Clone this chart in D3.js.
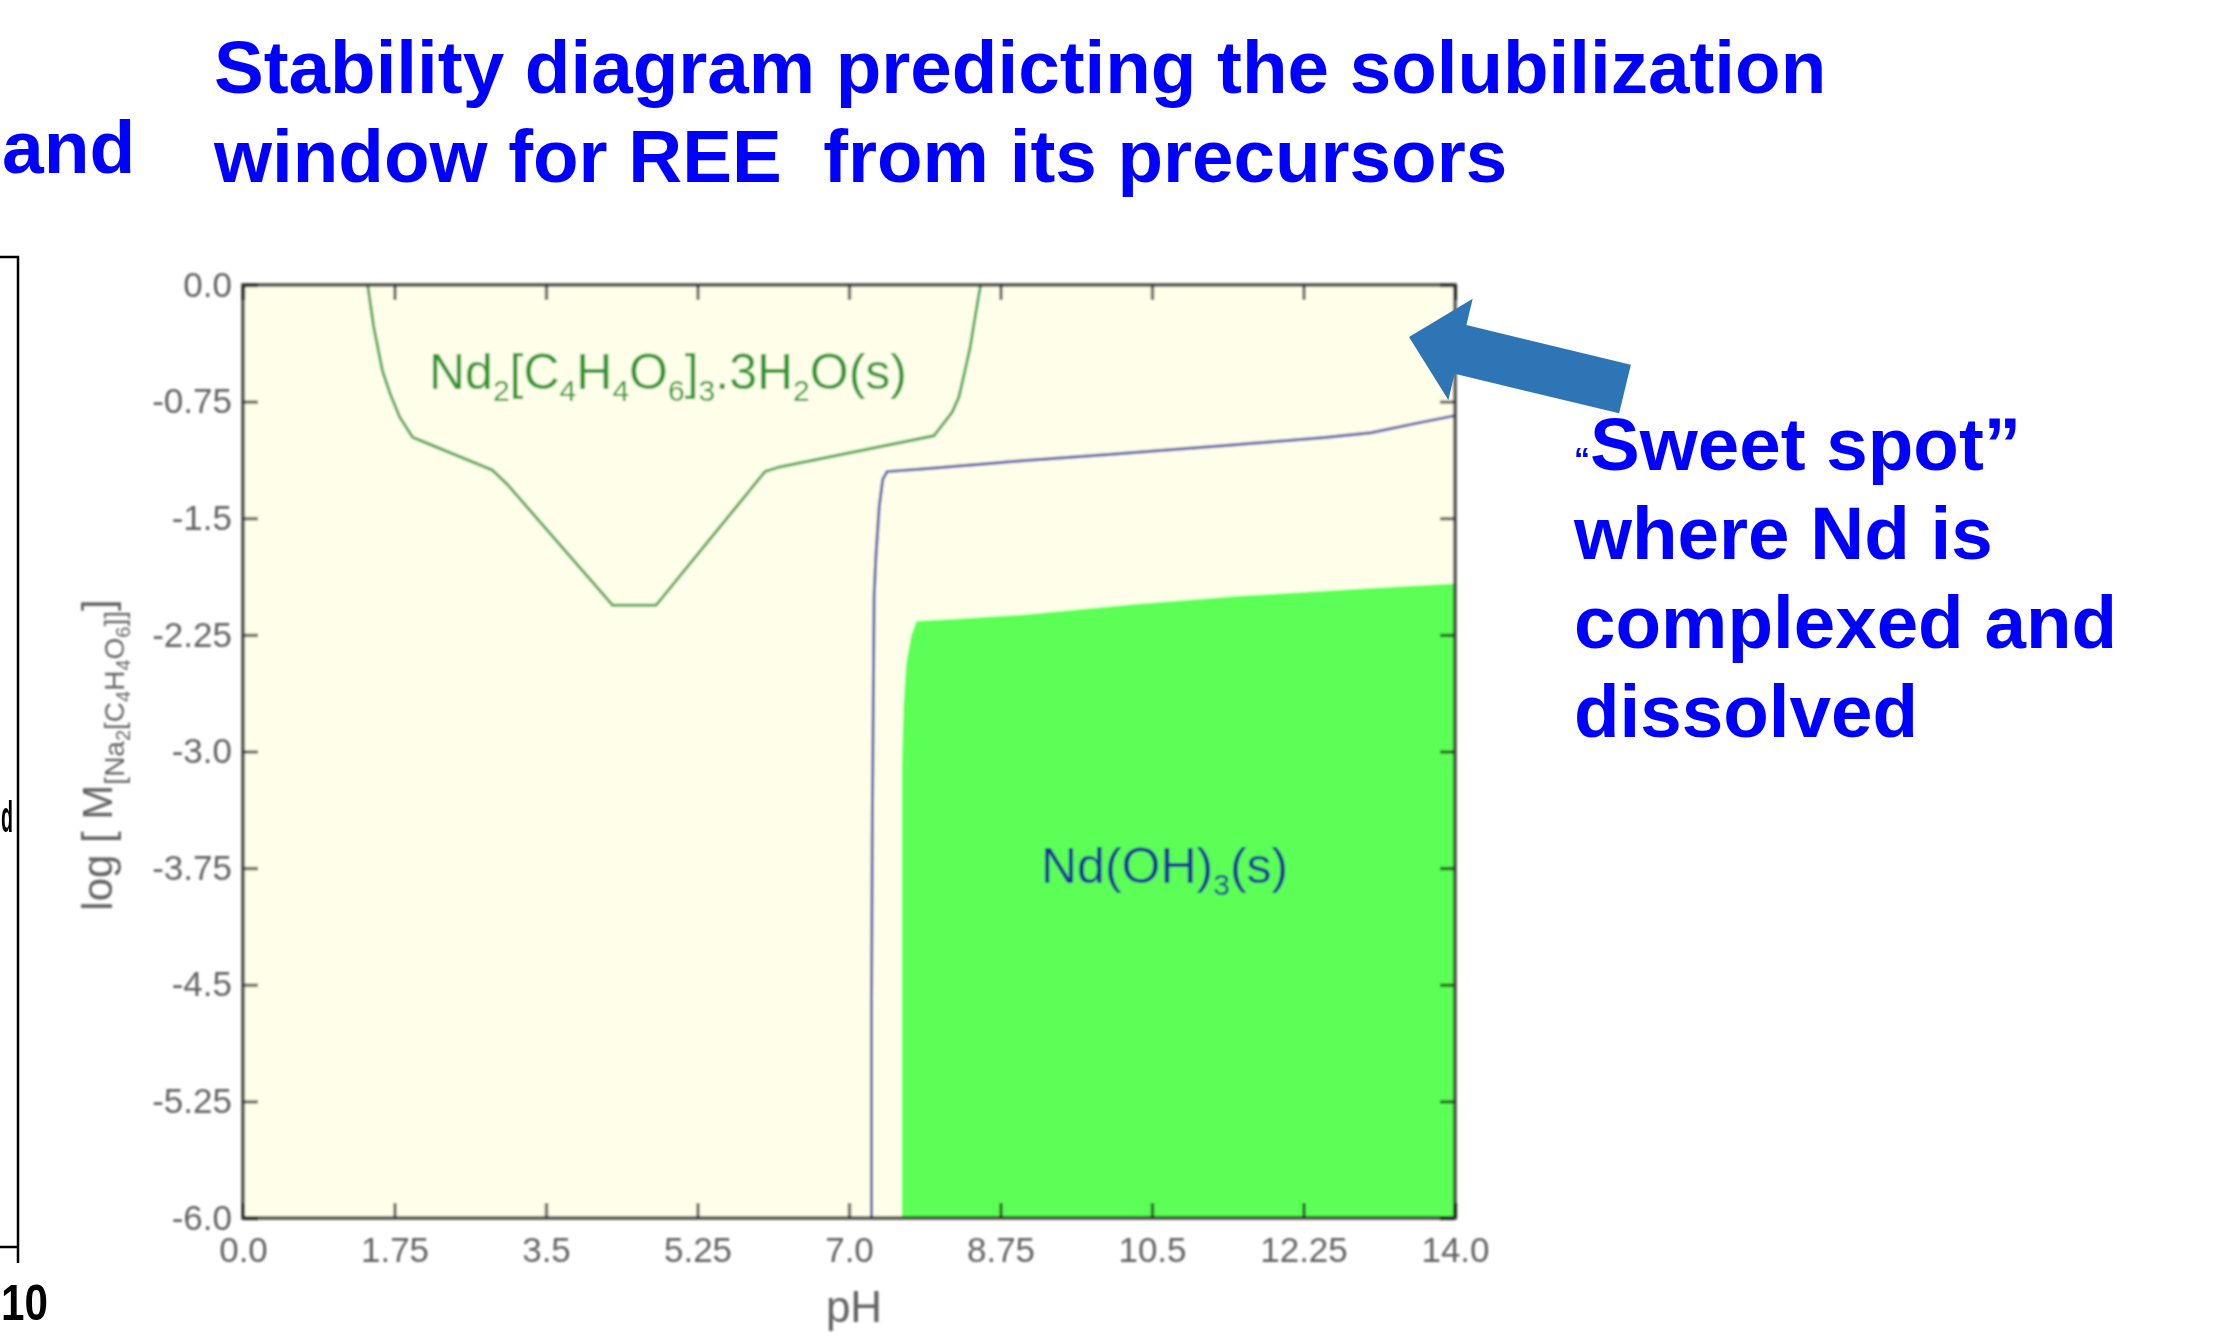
<!DOCTYPE html>
<html>
<head>
<meta charset="utf-8">
<script src="https://cdn.jsdelivr.net/npm/d3@7"></script>
<style>
  html, body { margin: 0; padding: 0; background: #ffffff; }
  svg { display: block; font-family: "Liberation Sans", Arial, Helvetica, sans-serif; }
</style>
</head>
<body>
<svg id="chart" width="2219" height="1342"></svg>
<script>
// ---- axis ticks ----
const phTicks = [0, 1.75, 3.5, 5.25, 7.0, 8.75, 10.5, 12.25, 14.0];
const phTickLabels = ["0.0", "1.75", "3.5", "5.25", "7.0", "8.75", "10.5", "12.25", "14.0"];
const logTicks = [0, -0.75, -1.5, -2.25, -3.0, -3.75, -4.5, -5.25, -6.0];
const logTickLabels = ["0.0", "-0.75", "-1.5", "-2.25", "-3.0", "-3.75", "-4.5", "-5.25", "-6.0"];

// ---- phase boundaries, [pH, log M] ----
// Nd2[C4H4O6]3·3H2O(s) precipitation field
const tartrateBoundary = [
  [1.44, 0.00], [1.51, -0.27], [1.61, -0.55], [1.70, -0.70], [1.81, -0.85],
  [1.96, -0.98], [2.05, -1.00], [2.88, -1.19], [3.05, -1.28], [4.27, -2.06],
  [4.77, -2.06], [6.03, -1.20], [6.20, -1.17], [7.98, -0.97], [8.19, -0.82],
  [8.27, -0.72], [8.34, -0.55], [8.40, -0.40], [8.47, -0.16], [8.52, 0.00]
];
// dissolved tartrate complex boundary
const complexBoundary = [
  [7.26, -6.00], [7.26, -4.60], [7.27, -3.40], [7.28, -2.70], [7.29, -2.00],
  [7.31, -1.75], [7.35, -1.42], [7.39, -1.25], [7.44, -1.20], [7.92, -1.18],
  [9.00, -1.13], [10.00, -1.09], [11.39, -1.03], [12.50, -0.98], [13.03, -0.95],
  [13.55, -0.89], [14.00, -0.84]
];
// Nd(OH)3(s) field outline
const hydroxideField = [
  [7.61, -6.00], [7.61, -3.10], [7.63, -2.70], [7.66, -2.43], [7.72, -2.25],
  [7.78, -2.16], [8.17, -2.15], [9.00, -2.12], [10.36, -2.05], [11.50, -2.00],
  [13.00, -1.95], [14.00, -1.92], [14.00, -6.00]
];

const svg = d3.select("#chart");

const x = d3.scaleLinear().domain([0, 14]).range([243, 1455]);
const y = d3.scaleLinear().domain([0, -6]).range([285, 1218]);

const defs = svg.append("defs");
defs.append("filter").attr("id", "soft")
  .attr("x", "-5%").attr("y", "-5%").attr("width", "110%").attr("height", "110%")
  .append("feGaussianBlur").attr("stdDeviation", 0.9);

// ---- chart ----
const plot = svg.append("g").attr("filter", "url(#soft)");

plot.append("rect")
  .attr("x", x(0)).attr("y", y(0))
  .attr("width", x(14) - x(0)).attr("height", y(-6) - y(0))
  .attr("fill", "#fefee9");

const line = d3.line().x(d => x(d[0])).y(d => y(d[1]));

plot.append("path")
  .attr("d", line(hydroxideField) + "Z")
  .attr("fill", "#5cff57");

plot.append("path")
  .attr("d", line(complexBoundary))
  .attr("fill", "none")
  .attr("stroke", "#5d63aa")
  .attr("stroke-width", 3);

plot.append("path")
  .attr("d", line(tartrateBoundary))
  .attr("fill", "none")
  .attr("stroke", "#55a755")
  .attr("stroke-width", 3);

// field labels
const tLab = plot.append("text")
  .attr("x", 429).attr("y", 389)
  .attr("font-size", 50).attr("fill", "#2a962a");
const sub = (t, s) => t.append("tspan").attr("font-size", 30).attr("dy", 12).text(s);
const norm = (t, s) => t.append("tspan").attr("font-size", 50).attr("dy", -12).text(s);
tLab.append("tspan").text("Nd");
sub(tLab, "2"); norm(tLab, "[C");
sub(tLab, "4"); norm(tLab, "H");
sub(tLab, "4"); norm(tLab, "O");
sub(tLab, "6"); norm(tLab, "]");
sub(tLab, "3"); norm(tLab, ".3H");
sub(tLab, "2"); norm(tLab, "O(s)");

const hLab = plot.append("text")
  .attr("x", 1041).attr("y", 883)
  .attr("font-size", 50).attr("fill", "#1c3690");
hLab.append("tspan").text("Nd(OH)");
sub(hLab, "3"); norm(hLab, "(s)");

// axes: ticks point inward on all four sides
const tickLen = 15;
const gB = plot.append("g").attr("transform", `translate(0,${y(-6)})`)
  .call(d3.axisBottom(x).tickValues(phTicks).tickFormat((d, i) => phTickLabels[i])
    .tickSizeInner(-tickLen).tickSizeOuter(0).tickPadding(19));
const gT = plot.append("g").attr("transform", `translate(0,${y(0)})`)
  .call(d3.axisTop(x).tickValues(phTicks).tickFormat("")
    .tickSizeInner(-tickLen).tickSizeOuter(0));
const gL = plot.append("g").attr("transform", `translate(${x(0)},0)`)
  .call(d3.axisLeft(y).tickValues(logTicks).tickFormat((d, i) => logTickLabels[i])
    .tickSizeInner(-tickLen).tickSizeOuter(0).tickPadding(11));
const gR = plot.append("g").attr("transform", `translate(${x(14)},0)`)
  .call(d3.axisRight(y).tickValues(logTicks).tickFormat("")
    .tickSizeInner(-tickLen).tickSizeOuter(0));

[gB, gT, gL, gR].forEach(g => {
  g.select(".domain").remove();
  g.selectAll(".tick line")
    .attr("stroke", "#5e5e5e").attr("stroke-width", 3)
    .style("mix-blend-mode", "multiply");
  g.selectAll(".tick text")
    .attr("fill", "#646464")
    .attr("font-size", 35)
    .attr("font-family", "\"Liberation Sans\", Arial, sans-serif");
});

plot.append("rect")
  .attr("x", x(0)).attr("y", y(0))
  .attr("width", x(14) - x(0)).attr("height", y(-6) - y(0))
  .attr("fill", "none")
  .attr("stroke", "#646460").attr("stroke-width", 4)
  .style("mix-blend-mode", "multiply");

// axis titles
plot.append("text")
  .attr("x", 854).attr("y", 1322)
  .attr("text-anchor", "middle")
  .attr("font-size", 44).attr("fill", "#646464")
  .text("pH");

const yTitle = plot.append("text")
  .attr("transform", "translate(112,755) rotate(-90)")
  .attr("text-anchor", "middle")
  .attr("font-size", 42).attr("fill", "#646464")
  .style("white-space", "pre");
yTitle.append("tspan").text("log [ M");
const ySub = (s, dy, fs) => yTitle.append("tspan").attr("font-size", fs).attr("dy", dy).text(s);
ySub("[Na", 12, 28);
ySub("2", 6, 20);
ySub("[C", -6, 28);
ySub("4", 6, 20);
ySub("H", -6, 28);
ySub("4", 6, 20);
ySub("O", -6, 28);
ySub("6", 6, 20);
ySub("]]", -6, 28);
ySub("]", -12, 42);

// ---- slide text ----
const blue = "#0000ff";
svg.append("text")
  .attr("x", 214).attr("y", 93)
  .attr("font-size", 74.6).attr("font-weight", "bold").attr("fill", blue)
  .text("Stability diagram predicting the solubilization");
svg.append("text")
  .attr("x", 214).attr("y", 182)
  .attr("font-size", 74.6).attr("font-weight", "bold").attr("fill", blue)
  .style("white-space", "pre")
  .text("window for REE  from its precursors");

const note = svg.append("text")
  .attr("font-size", 74.6).attr("font-weight", "bold").attr("fill", blue);
const noteLines = ["Sweet spot\u201d", "where Nd is", "complexed and", "dissolved"];
noteLines.forEach((s, i) => {
  const t = note.append("tspan").attr("x", 1574).attr("y", 470 + i * 89);
  if (i === 0) {
    t.append("tspan").attr("font-size", 32).text("\u201c");
    t.append("tspan").text(s);
  } else {
    t.text(s);
  }
});

// block arrow pointing at the complexed region
function blockArrow(tip, tail, shaftW, headW, headLen) {
  const dx = tail[0] - tip[0], dy = tail[1] - tip[1];
  const L = Math.hypot(dx, dy);
  const u = [dx / L, dy / L], n = [-u[1], u[0]];
  const at = (p, a, b) => [p[0] + u[0] * a + n[0] * b, p[1] + u[1] * a + n[1] * b];
  return [
    tip,
    at(tip, headLen, -headW / 2),
    at(tip, headLen, -shaftW / 2),
    at(tail, 0, -shaftW / 2),
    at(tail, 0, shaftW / 2),
    at(tip, headLen, shaftW / 2),
    at(tip, headLen, headW / 2)
  ];
}
svg.append("path")
  .attr("d", d3.line()(blockArrow([1409, 337], [1625, 389], 50, 104, 53)) + "Z")
  .attr("fill", "#2e75b6");

// neighbouring panel edge
svg.append("text")
  .attr("x", 2).attr("y", 173)
  .attr("font-size", 75).attr("font-weight", "bold").attr("fill", blue)
  .text("and");
svg.append("path")
  .attr("d", "M0,257H18V1263M0,1247H18")
  .attr("fill", "none").attr("stroke", "#000").attr("stroke-width", 2.5);
svg.append("text")
  .attr("x", 1).attr("y", 832)
  .attr("font-size", 44).attr("font-weight", "bold").attr("fill", "#000")
  .attr("textLength", 12).attr("lengthAdjust", "spacingAndGlyphs")
  .text("d");
svg.append("text")
  .attr("x", 1).attr("y", 1320)
  .attr("font-size", 50).attr("font-weight", "bold").attr("fill", "#000")
  .attr("textLength", 47).attr("lengthAdjust", "spacingAndGlyphs")
  .text("10");
</script>
</body>
</html>
